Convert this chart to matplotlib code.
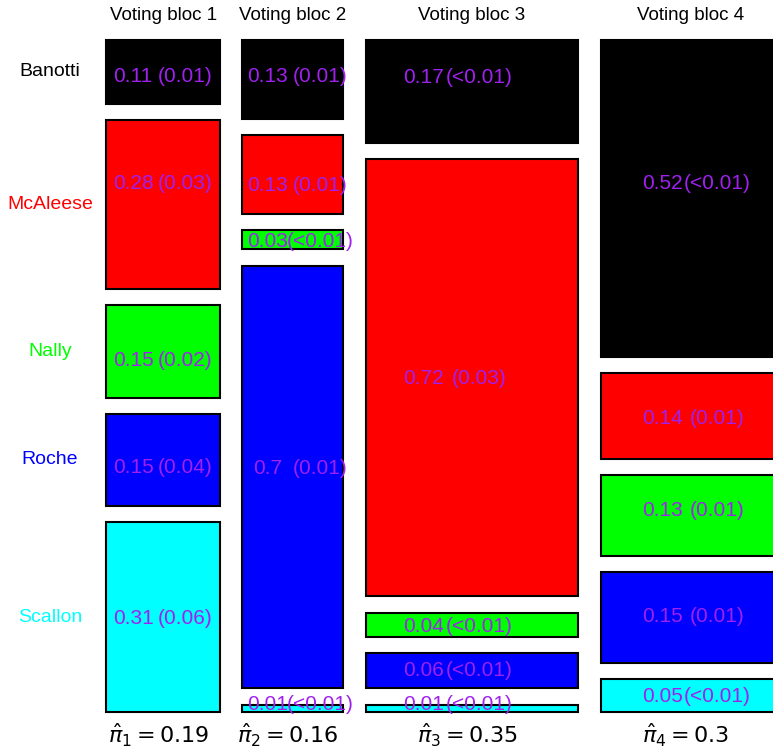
import matplotlib
matplotlib.use('Agg')
import matplotlib.pyplot as plt
from matplotlib.patches import Rectangle

plt.rcParams['font.family'] = ['Liberation Sans', 'DejaVu Sans']

# --- dados ---
candidatos = ['Banotti', 'McAleese', 'Nally', 'Roche', 'Scallon']
cores = ['black', 'red', '#00FF00', 'blue', 'cyan']

blocos = ['Voting bloc 1', 'Voting bloc 2', 'Voting bloc 3', 'Voting bloc 4']
pi_hat = [0.188, 0.166, 0.350, 0.296]
pi_rotulos = ['0.19', '0.16', '0.35', '0.3']

prob_bloco1 = [0.105, 0.278, 0.153, 0.151, 0.313]
prob_bloco2 = [0.130, 0.130, 0.031, 0.697, 0.012]
prob_bloco3 = [0.170, 0.720, 0.040, 0.058, 0.012]
prob_bloco4 = [0.522, 0.142, 0.132, 0.150, 0.054]

media_bloco1 = ['0.11', '0.28', '0.15', '0.15', '0.31']
media_bloco2 = ['0.13', '0.13', '0.03', '0.7', '0.01']
media_bloco3 = ['0.17', '0.72', '0.04', '0.06', '0.01']
media_bloco4 = ['0.52', '0.14', '0.13', '0.15', '0.05']

dp_bloco1 = ['(0.01)', '(0.03)', '(0.02)', '(0.04)', '(0.06)']
dp_bloco2 = ['(0.01)', '(0.01)', '(<0.01)', '(0.01)', '(<0.01)']
dp_bloco3 = ['(<0.01)', '(0.03)', '(<0.01)', '(<0.01)', '(<0.01)']
dp_bloco4 = ['(<0.01)', '(0.01)', '(0.01)', '(0.01)', '(<0.01)']

probs = [prob_bloco1, prob_bloco2, prob_bloco3, prob_bloco4]
medias = [media_bloco1, media_bloco2, media_bloco3, media_bloco4]
dps = [dp_bloco1, dp_bloco2, dp_bloco3, dp_bloco4]

# --- layout ---
PX = 1 / 608          # um pixel em unidades de dados
GAP_X = 0.0365
GAP_Y = 0.027
# deslocamento horizontal (fracao da largura) dos textos media / dp
desloc_media = [-0.262, -0.248, -0.226, -0.156]
desloc_dp = [0.193, 0.268, 0.033, 0.150]
# ajuste vertical dos rotulos (pixels) em relacao ao centro do retangulo
ajuste_y = [[3, -22.5, 7.5, 6, -1],
            [-4.5, 8.5, 0, -10.5, -5.5],
            [-16.5, -1.5, 0, -2.5, -6],
            [-16.5, 1, -7, -2.5, -1]]
ROXO = '#A020F0'
FS = 15

fig = plt.figure(figsize=(7.73, 7.55), dpi=100)
ax = fig.add_axes([106 / 773, 43 / 755, 667 / 773, 672 / 755])
total_y = 1 + GAP_Y * (len(candidatos) - 1)
ax.set_xlim(0, 667 * PX)
ax.set_ylim(total_y, 0)
ax.axis('off')

x0 = 0.0
for b, (w, p_col) in enumerate(zip(pi_hat, probs)):
    y0 = 0.0
    xc = x0 + w / 2
    for k, p in enumerate(p_col):
        ax.add_patch(Rectangle((x0, y0), w, p, facecolor=cores[k],
                               edgecolor='black', linewidth=1.5, clip_on=False))
        # linha de base = centro do texto + metade da altura dos digitos
        yb = y0 + p / 2 + (ajuste_y[b][k] + 0.358 * FS * 100 / 72) * PX
        ax.text(xc + desloc_media[b] * w, yb, medias[b][k], color=ROXO,
                fontsize=FS, ha='center', va='baseline', clip_on=False)
        ax.text(xc + desloc_dp[b] * w, yb, dps[b][k], color=ROXO,
                fontsize=FS, ha='center', va='baseline', clip_on=False)
        if b == 0:
            ax.text(-0.092, y0 + p / 2, candidatos[k], color=cores[k],
                    fontsize=14, ha='center', va='center')
        y0 += p + GAP_Y
    ax.text(xc, -0.041, blocos[b], fontsize=13.5, ha='center', va='center')
    ax.text(xc - 0.008, total_y + 0.038,
            r'$\hat{\pi}_%d = %s$' % (b + 1, pi_rotulos[b]),
            fontsize=16, ha='center', va='center')
    x0 += w + GAP_X

fig.savefig('out.png', dpi=100)
